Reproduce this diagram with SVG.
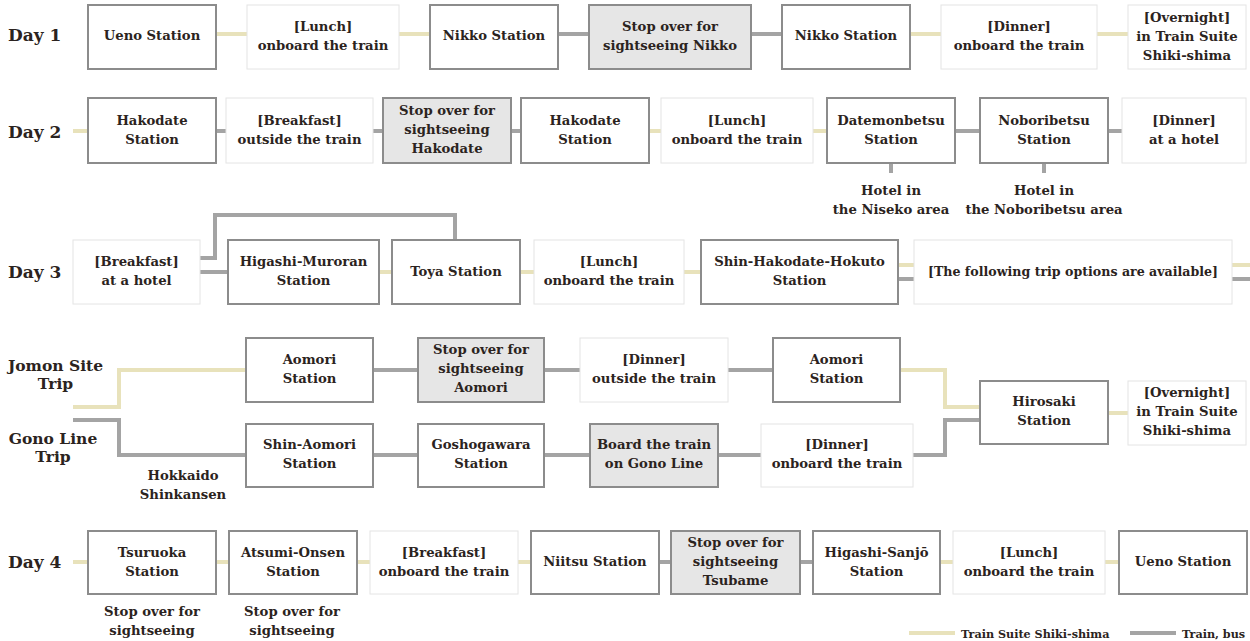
<svg xmlns="http://www.w3.org/2000/svg" width="1250" height="641" viewBox="0 0 1250 641">
<style>
.st{fill:#fff;stroke:#8c8c8c;stroke-width:2}
.ml{fill:#fff;stroke:#e4e4e4;stroke-width:1}
.sp{fill:#e6e6e6;stroke:#8c8c8c;stroke-width:2}
.t{font-family:"DejaVu Serif",serif;font-weight:bold;fill:#2b2320;font-size:13.2px;text-anchor:middle}
.t2{font-size:12.6px}
.d{font-family:"DejaVu Serif",serif;font-weight:bold;fill:#2b2320;font-size:17px}
.dc{font-family:"DejaVu Serif",serif;font-weight:bold;fill:#2b2320;font-size:15.5px;text-anchor:middle}
.lg{font-family:"DejaVu Serif",serif;font-weight:bold;fill:#2b2320;font-size:11.2px}
.cr{stroke:#e8e2bb;stroke-width:4;fill:none}
.gr{stroke:#a4a4a4;stroke-width:4;fill:none}
</style>
<rect width="1250" height="641" fill="#fff"/>

<g id="connectors">
<path class="cr" d="M216 34H247M399 34H430M910 34H941M1097 34H1128"/>
<path class="gr" d="M558 34H589M751 34H782"/>
<path class="cr" d="M73 131H88M649 131H661M813 131H827"/>
<path class="gr" d="M216 131H226M373 131H383M511 131H521M955 131H980M1108 131H1122M891 163V173M1044 163V173"/>
<path class="gr" d="M200 258H215V215H455V240"/>
<path class="gr" d="M200 272H228"/>
<path class="cr" d="M379 272H392M520 272H534M684 272H701"/>
<path class="cr" d="M898 265H914M1232 265H1250"/>
<path class="gr" d="M898 279H914M1232 279H1250"/>
<path class="cr" d="M73 407H119V370H246"/>
<path class="gr" d="M73 420H119V455H246"/>
<path class="gr" d="M373 370H418M544 370H580M728 370H773"/>
<path class="cr" d="M900 370H945V407H980"/>
<path class="cr" d="M1108 413H1128"/>
<path class="gr" d="M913 455H945V420H980"/>
<path class="gr" d="M373 455H418M544 455H590M718 455H761"/>
<path class="cr" d="M73 562H88M216 562H229M357 562H370M518 562H531M940 562H953M1105 562H1119"/>
<path class="gr" d="M659 562H671M800 562H813"/>
</g>

<g id="labels">
<text class="d" x="8" y="41">Day 1</text>
<text class="d" x="8" y="138">Day 2</text>
<text class="d" x="8" y="278">Day 3</text>
<text class="d" x="8" y="568">Day 4</text>
<text class="dc" x="55.5" y="371">Jomon Site</text>
<text class="dc" x="55.5" y="389">Trip</text>
<text class="dc" x="53" y="444">Gono Line</text>
<text class="dc" x="53" y="462">Trip</text>
<text class="t" x="183" y="480">Hokkaido</text>
<text class="t" x="183" y="499">Shinkansen</text>
<text class="t" x="891" y="195">Hotel in</text>
<text class="t" x="891" y="214">the Niseko area</text>
<text class="t" x="1044" y="195">Hotel in</text>
<text class="t" x="1044" y="214">the Noboribetsu area</text>
<text class="t" x="152" y="616">Stop over for</text>
<text class="t" x="152" y="635">sightseeing</text>
<text class="t" x="292" y="616">Stop over for</text>
<text class="t" x="292" y="635">sightseeing</text>
</g>

<g id="legend">
<line class="cr" x1="909" y1="633" x2="955" y2="633"/>
<text class="lg" x="961" y="637.5">Train Suite Shiki-shima</text>
<line class="gr" x1="1130" y1="633" x2="1176" y2="633"/>
<text class="lg" x="1182" y="637.5">Train, bus</text>
</g>

<g id="d1-ueno"><rect class="st" x="88" y="5" width="128" height="64"/><text class="t" x="152" y="40">Ueno Station</text></g>
<g id="d1-lunch"><rect class="ml" x="247" y="5" width="152" height="64"/><text class="t" x="323" y="31">[Lunch]<tspan x="323" dy="19">onboard the train</tspan></text></g>
<g id="d1-nikko1"><rect class="st" x="430" y="5" width="128" height="64"/><text class="t" x="494" y="40">Nikko Station</text></g>
<g id="d1-stop"><rect class="sp" x="589" y="5" width="162" height="64"/><text class="t" x="670" y="31">Stop over for<tspan x="670" dy="19">sightseeing Nikko</tspan></text></g>
<g id="d1-nikko2"><rect class="st" x="782" y="5" width="128" height="64"/><text class="t" x="846" y="40">Nikko Station</text></g>
<g id="d1-dinner"><rect class="ml" x="941" y="5" width="156" height="64"/><text class="t" x="1019" y="31">[Dinner]<tspan x="1019" dy="19">onboard the train</tspan></text></g>
<g id="d1-overnight"><rect class="ml" x="1128" y="5" width="118" height="64"/><text class="t" x="1187" y="22">[Overnight]<tspan x="1187" dy="19">in Train Suite</tspan><tspan x="1187" dy="19">Shiki-shima</tspan></text></g>

<g id="d2-hakodate1"><rect class="st" x="88" y="98" width="128" height="65"/><text class="t" x="152" y="124.5">Hakodate<tspan x="152" dy="19">Station</tspan></text></g>
<g id="d2-breakfast"><rect class="ml" x="226" y="98" width="147" height="65"/><text class="t" x="299.5" y="124.5">[Breakfast]<tspan x="299.5" dy="19">outside the train</tspan></text></g>
<g id="d2-stop"><rect class="sp" x="383" y="98" width="128" height="65"/><text class="t" x="447" y="115">Stop over for<tspan x="447" dy="19">sightseeing</tspan><tspan x="447" dy="19">Hakodate</tspan></text></g>
<g id="d2-hakodate2"><rect class="st" x="521" y="98" width="128" height="65"/><text class="t" x="585" y="124.5">Hakodate<tspan x="585" dy="19">Station</tspan></text></g>
<g id="d2-lunch"><rect class="ml" x="661" y="98" width="152" height="65"/><text class="t" x="737" y="124.5">[Lunch]<tspan x="737" dy="19">onboard the train</tspan></text></g>
<g id="d2-datemonbetsu"><rect class="st" x="827" y="98" width="128" height="65"/><text class="t" x="891" y="124.5">Datemonbetsu<tspan x="891" dy="19">Station</tspan></text></g>
<g id="d2-noboribetsu"><rect class="st" x="980" y="98" width="128" height="65"/><text class="t" x="1044" y="124.5">Noboribetsu<tspan x="1044" dy="19">Station</tspan></text></g>
<g id="d2-dinner"><rect class="ml" x="1122" y="98" width="124" height="65"/><text class="t" x="1184" y="124.5">[Dinner]<tspan x="1184" dy="19">at a hotel</tspan></text></g>

<g id="d3-breakfast"><rect class="ml" x="73" y="240" width="127" height="64"/><text class="t" x="136.5" y="265.5">[Breakfast]<tspan x="136.5" dy="19">at a hotel</tspan></text></g>
<g id="d3-higashimuroran"><rect class="st" x="228" y="240" width="151" height="64"/><text class="t" x="303.5" y="265.5">Higashi-Muroran<tspan x="303.5" dy="19">Station</tspan></text></g>
<g id="d3-toya"><rect class="st" x="392" y="240" width="128" height="64"/><text class="t" x="456" y="275.5">Toya Station</text></g>
<g id="d3-lunch"><rect class="ml" x="534" y="240" width="150" height="64"/><text class="t" x="609" y="265.5">[Lunch]<tspan x="609" dy="19">onboard the train</tspan></text></g>
<g id="d3-shinhakodate"><rect class="st" x="701" y="240" width="197" height="64"/><text class="t" x="799.5" y="265.5">Shin-Hakodate-Hokuto<tspan x="799.5" dy="19">Station</tspan></text></g>
<g id="d3-options"><rect class="ml" x="914" y="240" width="318" height="64"/><text class="t t2" x="1073" y="275.5">[The following trip options are available]</text></g>

<g id="j-aomori1"><rect class="st" x="246" y="338" width="127" height="64"/><text class="t" x="309.5" y="363.5">Aomori<tspan x="309.5" dy="19">Station</tspan></text></g>
<g id="j-stop"><rect class="sp" x="418" y="338" width="126" height="64"/><text class="t" x="481" y="354">Stop over for<tspan x="481" dy="19">sightseeing</tspan><tspan x="481" dy="19">Aomori</tspan></text></g>
<g id="j-dinner"><rect class="ml" x="580" y="338" width="148" height="64"/><text class="t" x="654" y="363.5">[Dinner]<tspan x="654" dy="19">outside the train</tspan></text></g>
<g id="j-aomori2"><rect class="st" x="773" y="338" width="127" height="64"/><text class="t" x="836.5" y="363.5">Aomori<tspan x="836.5" dy="19">Station</tspan></text></g>
<g id="hirosaki"><rect class="st" x="980" y="381" width="128" height="63"/><text class="t" x="1044" y="406">Hirosaki<tspan x="1044" dy="19">Station</tspan></text></g>
<g id="overnight2"><rect class="ml" x="1128" y="381" width="118" height="64"/><text class="t" x="1187" y="396.5">[Overnight]<tspan x="1187" dy="19">in Train Suite</tspan><tspan x="1187" dy="19">Shiki-shima</tspan></text></g>

<g id="g-shinaomori"><rect class="st" x="246" y="424" width="127" height="63"/><text class="t" x="309.5" y="449">Shin-Aomori<tspan x="309.5" dy="19">Station</tspan></text></g>
<g id="g-goshogawara"><rect class="st" x="418" y="424" width="126" height="63"/><text class="t" x="481" y="449">Goshogawara<tspan x="481" dy="19">Station</tspan></text></g>
<g id="g-board"><rect class="sp" x="590" y="424" width="128" height="63"/><text class="t" x="654" y="449">Board the train<tspan x="654" dy="19">on Gono Line</tspan></text></g>
<g id="g-dinner"><rect class="ml" x="761" y="424" width="152" height="63"/><text class="t" x="837" y="449">[Dinner]<tspan x="837" dy="19">onboard the train</tspan></text></g>

<g id="d4-tsuruoka"><rect class="st" x="88" y="531" width="128" height="63"/><text class="t" x="152" y="556.5">Tsuruoka<tspan x="152" dy="19">Station</tspan></text></g>
<g id="d4-atsumi"><rect class="st" x="229" y="531" width="128" height="63"/><text class="t" x="293" y="556.5">Atsumi-Onsen<tspan x="293" dy="19">Station</tspan></text></g>
<g id="d4-breakfast"><rect class="ml" x="370" y="531" width="148" height="63"/><text class="t" x="444" y="556.5">[Breakfast]<tspan x="444" dy="19">onboard the train</tspan></text></g>
<g id="d4-niitsu"><rect class="st" x="531" y="531" width="128" height="63"/><text class="t" x="595" y="566">Niitsu Station</text></g>
<g id="d4-stop"><rect class="sp" x="671" y="531" width="129" height="63"/><text class="t" x="735.5" y="547">Stop over for<tspan x="735.5" dy="19">sightseeing</tspan><tspan x="735.5" dy="19">Tsubame</tspan></text></g>
<g id="d4-higashisanjo"><rect class="st" x="813" y="531" width="127" height="63"/><text class="t" x="876.5" y="556.5">Higashi-Sanjō<tspan x="876.5" dy="19">Station</tspan></text></g>
<g id="d4-lunch"><rect class="ml" x="953" y="531" width="152" height="63"/><text class="t" x="1029" y="556.5">[Lunch]<tspan x="1029" dy="19">onboard the train</tspan></text></g>
<g id="d4-ueno"><rect class="st" x="1119" y="531" width="128" height="63"/><text class="t" x="1183" y="566">Ueno Station</text></g>
</svg>
